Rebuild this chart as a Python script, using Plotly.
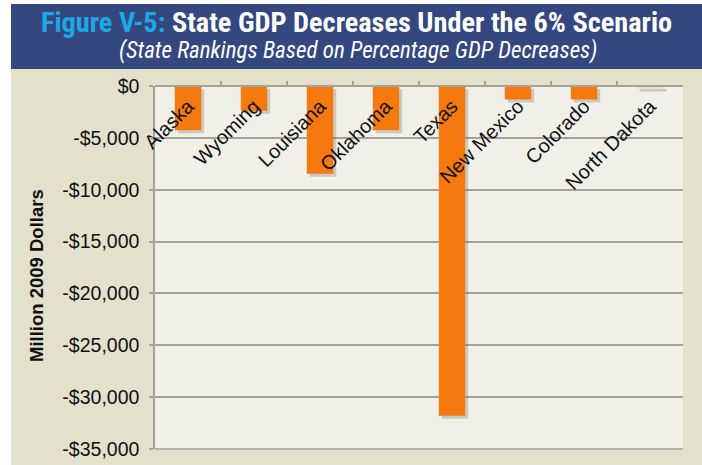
import plotly.graph_objects as go

states = ["Alaska", "Wyoming", "Louisiana", "Oklahoma", "Texas",
          "New Mexico", "Colorado", "North Dakota"]
gdp_change = [-4270, -2400, -8450, -4270, -31800, -1300, -1300, -250]
bar_colors = ["#F5790F"] * 7 + ["#E2E2DA"]

y_tickvals = [0, -5000, -10000, -15000, -20000, -25000, -30000, -35000]
y_ticktext = ["$0", "-$5,000", "-$10,000", "-$15,000", "-$20,000",
              "-$25,000", "-$30,000", "-$35,000"]

W, H = 702, 465
L, R, T, B = 155, 19, 86, 16
PW, PH = W - L - R, H - T - B


def px(x):
    return (x - L) / PW


def py(y):
    return (H - B - y) / PH


BEIGE = "#E3E0CC"
BLUE = "#35477F"
GRID = "#A3A39B"
TITLE_FONT = "Roboto Condensed, Liberation Sans Narrow, DejaVu Sans Condensed, sans-serif"

# drop-shadow styling (pixels converted to axis units)
shadow_dx = 3 / (PW / len(states))
shadow_dy = 3 * 35000 / PH

fig = go.Figure()
fig.add_trace(go.Bar(
    x=states, y=gdp_change, width=0.4, offset=-0.2 + shadow_dx,
    base=[-shadow_dy] * len(states),
    marker=dict(color="rgba(70,70,50,0.22)", line=dict(width=0)),
    hoverinfo="skip",
))
fig.add_trace(go.Bar(
    x=states, y=gdp_change, width=0.4, offset=-0.2,
    marker=dict(color=bar_colors, line=dict(width=0)),
    hoverinfo="x+y",
))

fig.update_layout(
    template="none",
    width=W, height=H, autosize=False,
    margin=dict(l=L, r=R, t=T, b=B, pad=0, autoexpand=False),
    barmode="overlay",
    paper_bgcolor=BEIGE,
    plot_bgcolor="#F0F0E8",
    showlegend=False,
    font=dict(family="Liberation Sans, Arial, sans-serif", color="#111111"),
    xaxis=dict(
        anchor="free", position=1, side="bottom", automargin=False,
        showline=True, linecolor=GRID, linewidth=1.5,
        ticks="inside", tickson="boundaries", ticklen=4, tickcolor=GRID,
        tickwidth=1.5,
        tickangle=-45, tickfont=dict(size=20, color="#111111"),
        showgrid=False, zeroline=False,
    ),
    yaxis=dict(
        range=[-35000, 0], tickvals=y_tickvals, ticktext=y_ticktext,
        automargin=False,
        showline=True, linecolor=GRID, linewidth=1.5,
        ticks="outside", ticklen=4, tickcolor=GRID, tickwidth=1.5,
        ticklabelstandoff=6,
        tickfont=dict(size=19.5, color="#111111"),
        showgrid=True, gridcolor=GRID, gridwidth=1.5, zeroline=False,
    ),
    shapes=[
        dict(type="rect", xref="paper", yref="paper",
             x0=px(0), x1=px(11), y0=py(H), y1=py(0),
             fillcolor="white", line=dict(width=0)),
        dict(type="rect", xref="paper", yref="paper",
             x0=px(0), x1=px(W), y0=py(4), y1=py(0),
             fillcolor="white", line=dict(width=0)),
        dict(type="rect", xref="paper", yref="paper",
             x0=px(11), x1=px(W), y0=py(69), y1=py(4),
             fillcolor=BLUE, line=dict(width=0)),
        dict(type="line", xref="paper", yref="paper",
             x0=0, x1=1, y0=0, y1=0, line=dict(color=GRID, width=1.5)),
    ],
    annotations=[
        dict(xref="paper", yref="paper", x=px(356), y=py(22),
             xanchor="center", yanchor="middle", showarrow=False,
             text="<b><span style='color:#1BA9E6'>Figure V-5:</span> State GDP Decreases Under the 6% Scenario</b>",
             font=dict(family=TITLE_FONT, size=28.3, color="white")),
        dict(xref="paper", yref="paper", x=px(358), y=py(50),
             xanchor="center", yanchor="middle", showarrow=False,
             text="<i>(State Rankings Based on Percentage GDP Decreases)</i>",
             font=dict(family=TITLE_FONT, size=23, color="white")),
        dict(xref="paper", yref="paper", x=px(36), y=py(276),
             xanchor="center", yanchor="middle", showarrow=False,
             textangle=-90,
             text="<b>Million 2009 Dollars</b>",
             font=dict(size=18.5, color="#111111")),
    ],
)

fig.write_html("out.html", config={"displayModeBar": False},
               post_script="document.body.style.margin='0';document.body.style.padding='0';")
